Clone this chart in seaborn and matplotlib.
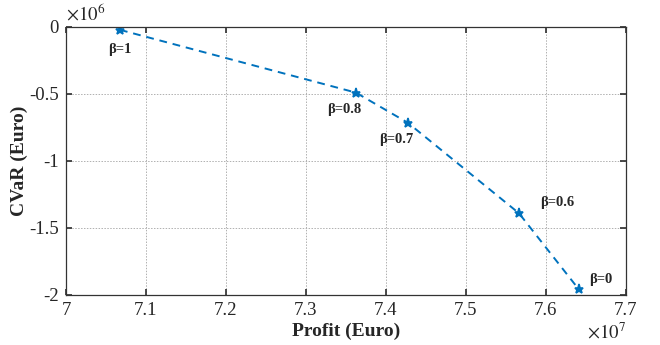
import matplotlib
matplotlib.use("Agg")
import matplotlib.pyplot as plt
import seaborn as sns
import pandas as pd
from matplotlib.ticker import FuncFormatter, MultipleLocator

# values (Euro)
BETA_LABELS = ["β=1", "β=0.8", "β=0.7", "β=0.6", "β=0"]
PROFIT = [7.0675e7, 7.3625e7, 7.4275e7, 7.5665e7, 7.641e7]
CVAR = [-0.022e6, -0.49e6, -0.715e6, -1.39e6, -1.955e6]

LINE_BLUE = "#0072BD"

sns.set_theme(style="ticks")
plt.rcParams["font.family"] = ["Liberation Serif", "DejaVu Serif"]
plt.rcParams["mathtext.fontset"] = "stix"

df = pd.DataFrame({"profit": PROFIT, "cvar": CVAR, "label": BETA_LABELS})

fig, ax = plt.subplots(figsize=(6.6, 3.45), dpi=100)
fig.subplots_adjust(left=0.1, right=0.948, top=0.922, bottom=0.145)

sns.lineplot(data=df, x="profit", y="cvar", ax=ax, color=LINE_BLUE,
             linestyle=(0, (4, 3)), linewidth=1.4, marker="*", markersize=6.5,
             markeredgecolor=LINE_BLUE, markeredgewidth=1.2, sort=False)

# label offsets (points) and alignment around each marker
offsets = [(0, -14), (-8, -12), (-8, -12), (15, 8), (8, 7)]
aligns = ["center", "center", "center", "left", "left"]
for (_, row), off, ha in zip(df.iterrows(), offsets, aligns):
    ax.annotate(row["label"], (row["profit"], row["cvar"]), xytext=off,
                textcoords="offset points", ha=ha, va="center",
                fontsize=10.5, fontweight="bold")

ax.set_xlim(7.0e7, 7.7e7)
ax.set_ylim(-2e6, 0)
ax.xaxis.set_major_locator(MultipleLocator(0.1e7))
ax.yaxis.set_major_locator(MultipleLocator(0.5e6))
ax.xaxis.set_major_formatter(FuncFormatter(lambda v, p: f"{v / 1e7:g}"))
ax.yaxis.set_major_formatter(FuncFormatter(lambda v, p: f"{v / 1e6:g}"))
ax.text(0.0, 1.01, r"$\times10^6$", transform=ax.transAxes, fontsize=13.5, va="bottom")
ax.text(0.93, -0.1, r"$\times10^7$", transform=ax.transAxes, fontsize=13.5, va="top")

ax.grid(True, linestyle=(0, (1.5, 1.5)), color="#b0b0b0", linewidth=0.7)
ax.tick_params(direction="in", top=True, right=True, labelsize=13.5, length=4,
               color="#333333", pad=5)
for s in ax.spines.values():
    s.set_color("#333333")
    s.set_linewidth(0.9)

ax.set_xlabel("Profit (Euro)", fontsize=14, fontweight="bold", labelpad=3)
ax.set_ylabel("CVaR (Euro)", fontsize=14, fontweight="bold", labelpad=1)

fig.savefig("out.png", dpi=100)
